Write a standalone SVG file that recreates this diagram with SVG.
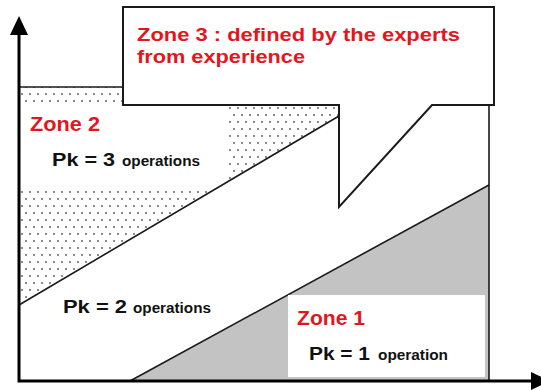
<svg xmlns="http://www.w3.org/2000/svg" width="541" height="390" viewBox="0 0 541 390">
<style>
.red{fill:#e3161e;font-family:"Liberation Sans",Arial,sans-serif;font-weight:bold}
.blk{fill:#111;font-family:"Liberation Sans",Arial,sans-serif;font-weight:bold}
.edge{stroke:#1a1a1a;stroke-width:1.6;fill:none}
.axis{stroke:#000;stroke-width:3;fill:none}
</style>
<defs>
<pattern id="dots" width="8" height="14" patternUnits="userSpaceOnUse">
<circle cx="2" cy="3" r="0.9" fill="#555"/>
<circle cx="6" cy="10" r="0.9" fill="#555"/>
</pattern>
</defs>
<rect width="541" height="390" fill="#fff"/>
<g id="zone2">
<polygon points="19,87 339,87 339,116 19,305" fill="url(#dots)"/>
<rect x="20" y="104" width="207" height="83" fill="#fff"/>
<line x1="19" y1="87" x2="123" y2="87" class="edge"/>
<line x1="19" y1="305" x2="339" y2="116" class="edge"/>
</g>
<g id="zone1">
<polygon points="130,381 489,185 489,381" fill="#c3c3c3"/>
<line x1="130" y1="381" x2="489" y2="185" class="edge"/>
<rect x="288" y="295" width="197" height="82" fill="#fff"/>
</g>
<g id="plot-right">
<line x1="489" y1="105" x2="489" y2="381" class="edge" stroke-width="2"/>
</g>
<g id="zone3">
<path d="M123,7 H494 V105 H432 L339,207 V105 H123 Z" fill="#fff" stroke="#1a1a1a" stroke-width="2" stroke-linejoin="miter"/>
<text class="red" x="137" y="41" font-size="19" textLength="323" lengthAdjust="spacingAndGlyphs">Zone 3 : defined by the experts</text>
<text class="red" x="137" y="63" font-size="19" textLength="168" lengthAdjust="spacingAndGlyphs">from experience</text>
</g>
<g id="labels">
<text class="red" x="30" y="131" font-size="20" textLength="70" lengthAdjust="spacingAndGlyphs">Zone 2</text>
<text class="blk" x="52" y="166" font-size="18" textLength="63" lengthAdjust="spacingAndGlyphs">Pk = 3</text>
<text class="blk" x="122" y="166" font-size="14" textLength="78" lengthAdjust="spacingAndGlyphs">operations</text>
<text class="blk" x="63" y="313" font-size="18" textLength="64" lengthAdjust="spacingAndGlyphs">Pk = 2</text>
<text class="blk" x="133" y="313" font-size="14" textLength="78" lengthAdjust="spacingAndGlyphs">operations</text>
<text class="red" x="297" y="325" font-size="20" textLength="68" lengthAdjust="spacingAndGlyphs">Zone 1</text>
<text class="blk" x="309" y="360" font-size="18" textLength="61" lengthAdjust="spacingAndGlyphs">Pk = 1</text>
<text class="blk" x="378" y="360" font-size="14" textLength="70" lengthAdjust="spacingAndGlyphs">operation</text>
</g>
<g id="connectors">
<polyline points="19,33 19,381 533,381" class="axis"/>
<polygon points="19,16 28,35 10,35" fill="#000"/>
<polygon points="531,372 550,381 531,390" fill="#000"/>
</g>
</svg>
